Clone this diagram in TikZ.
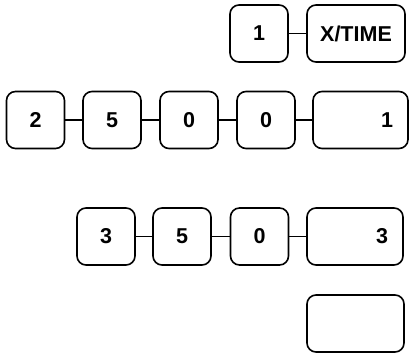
\documentclass[tikz,border=0pt]{standalone}
\usepackage{fontspec}
\setmainfont{Liberation Sans}
\begin{document}
\begin{tikzpicture}[x=1pt,y=-1pt,
  keybox/.style={draw, rounded corners=9pt, line width=1.6pt, minimum height=57pt,
    minimum width=58pt, inner sep=0pt, font=\fontsize{21.5}{24}\selectfont\bfseries},
  widebox/.style={keybox, text width=#1-30pt, align=right, inner xsep=15pt},
  link/.style={line width=1.2pt}]
\useasboundingbox (0,0) rectangle (409,355);
% row 1
\node[keybox] (a1) at (259,33.5) {1};
\node[keybox, minimum width=98pt] (b1) at (356,33.5) {X/TIME};
\draw[link] (a1) -- (b1);
% row 2
\node[keybox] (r2a) at (35.5,120) {2};
\node[keybox] (r2b) at (112,120) {5};
\node[keybox] (r2c) at (189,120) {0};
\node[keybox] (r2d) at (266,120) {0};
\node[widebox=95pt] (r2e) at (360.5,120) {1};
\draw[link] (r2a) -- (r2b);
\draw[link] (r2b) -- (r2c);
\draw[link] (r2c) -- (r2d);
\draw[link] (r2d) -- (r2e);
% row 3
\node[keybox] (r3a) at (106,236.5) {3};
\node[keybox] (r3b) at (182,236.5) {5};
\node[keybox] (r3c) at (259.5,236.5) {0};
\node[widebox=96pt] (r3d) at (355,236.5) {3};
\draw[link] (r3a) -- (r3b);
\draw[link] (r3b) -- (r3c);
\draw[link] (r3c) -- (r3d);
% row 4
\node[keybox, minimum width=97pt] (r4) at (355.5,323.5) {};
\end{tikzpicture}
\end{document}
